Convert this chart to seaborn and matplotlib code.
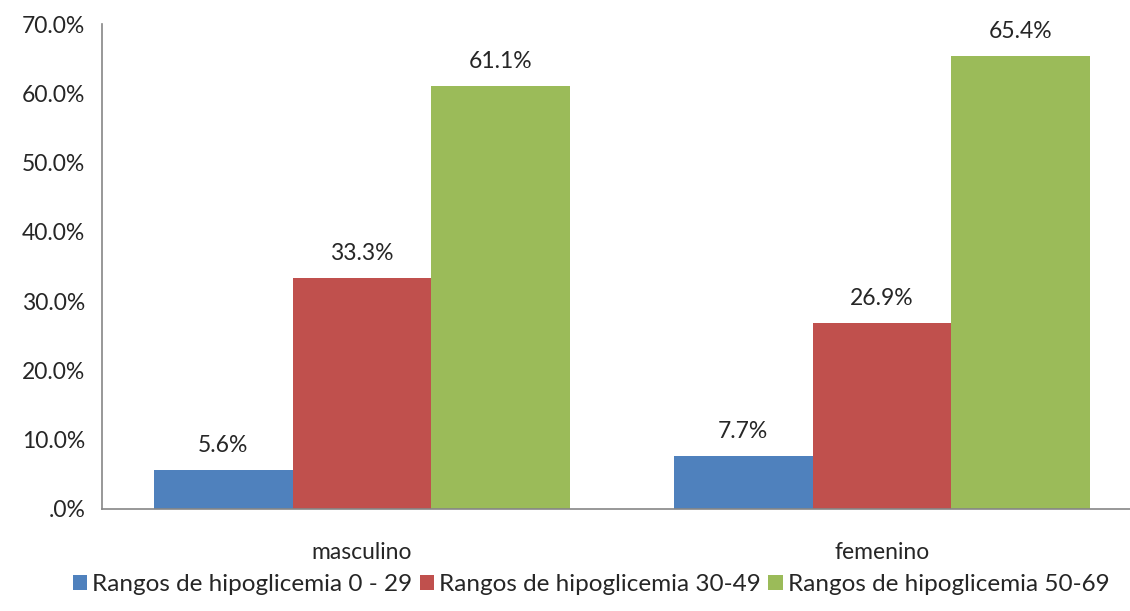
import matplotlib
matplotlib.use('Agg')
import matplotlib.pyplot as plt
import seaborn as sns
import pandas as pd

# data
sexo = ['masculino', 'femenino']
rangos = ['Rangos de hipoglicemia 0 - 29', 'Rangos de hipoglicemia 30-49', 'Rangos de hipoglicemia 50-69']
rango_0_29 = [5.6, 7.7]
rango_30_49 = [33.3, 26.9]
rango_50_69 = [61.1, 65.4]
colores = ['#4F81BD', '#C0504D', '#9BBB59']

df = pd.DataFrame({
    'sexo': sexo * 3,
    'rango': [rangos[0]] * 2 + [rangos[1]] * 2 + [rangos[2]] * 2,
    'pct': rango_0_29 + rango_30_49 + rango_50_69,
})

sns.set_style('white')
plt.rcParams['font.family'] = ['Lato', 'DejaVu Sans']

fig = plt.figure(figsize=(11.3, 6.11), dpi=100)
ax = fig.add_axes([0.0903, 0.167, 1 - 0.0903, 0.7937])

sns.barplot(data=df, x='sexo', y='pct', hue='rango', palette=colores,
            width=0.8, saturation=1, linewidth=0, ax=ax, legend=True)

for cont in ax.containers:
    ax.bar_label(cont, labels=['%.1f%%' % v for v in cont.datavalues],
                 padding=10, fontsize=16.5)

ax.set_ylim(0, 70)
ax.set_xlim(-0.5, -0.5 + 1028 / 520)
ax.set_yticks(range(0, 71, 10))
ax.set_yticklabels(['.0%'] + ['%.1f%%' % v for v in range(10, 71, 10)], fontsize=16.5)
ax.tick_params(axis='x', labelsize=16.5, pad=24, length=0)
ax.tick_params(axis='y', length=0, pad=12)
ax.set_xlabel('')
ax.set_ylabel('')

for s in ['top', 'right']:
    ax.spines[s].set_visible(False)
for s in ['left', 'bottom']:
    ax.spines[s].set_color('#868686')
    ax.spines[s].set_linewidth(1.2)

handles, labels = ax.get_legend_handles_labels()
ax.get_legend().remove()
fig.legend(handles, labels, loc='lower center', bbox_to_anchor=(0.523, -0.01),
           ncol=3, frameon=False, fontsize=17.5, handlelength=0.6, handleheight=0.6,
           handletextpad=0.2, columnspacing=0.3)

fig.savefig('out.png', dpi=100)
